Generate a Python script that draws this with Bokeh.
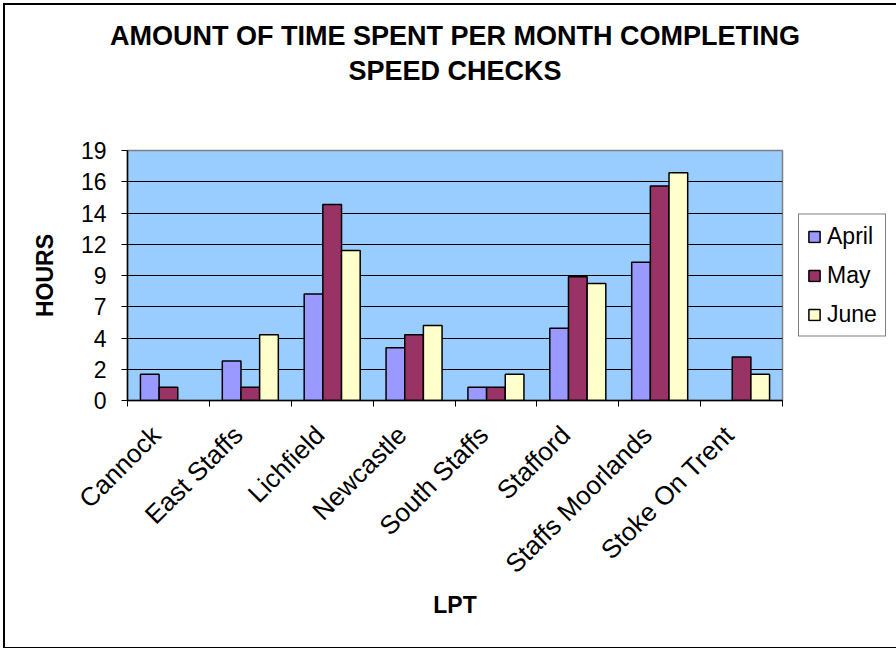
import math
from bokeh.plotting import figure
from bokeh.models import (ColumnDataSource, FixedTicker, LinearAxis,
                          Range1d, Legend, LegendItem)
from bokeh.transform import dodge
from bokeh.embed import file_html
from bokeh.resources import INLINE

NAN = float("nan")
lpt = ["Cannock", "East Staffs", "Lichfield", "Newcastle", "South Staffs",
       "Stafford", "Staffs Moorlands", "Stoke On Trent"]
april = [2, 3, 8.1, 4, 1, 5.5, 10.5, NAN]
may = [1, 1, 14.9, 5, 1, 9.4, 16.3, 3.3]
june = [NAN, 5, 11.4, 5.7, 2, 8.9, 17.3, 2]
months = ["April", "May", "June"]
colors = ["#9999FF", "#993366", "#FFFFCC"]
y_ticks = [i * 19 / 8 for i in range(9)]
y_tick_labels = ["0", "2", "4", "7", "9", "12", "14", "16", "19"]
title_lines = ["AMOUNT OF TIME SPENT PER MONTH COMPLETING", "SPEED CHECKS"]

FONT = "Liberation Sans"

n = len(lpt)
idx = list(range(n))
label_pos = [i + 0.35 for i in idx]
boundaries = list(range(n + 1))
src = ColumnDataSource(dict(idx=idx, lpt=lpt, April=april, May=may, June=june))

p = figure(frame_width=655, frame_height=250, x_range=Range1d(0, n), y_range=Range1d(0, 19),
           x_axis_type=None, output_backend="svg", toolbar_location=None,
           title_location=None,
           min_border_left=122, min_border_right=115, min_border_top=145,
           min_border_bottom=247)
p.styles = {"border": "2px solid black", "margin": "3px"}
p.background_fill_color = "#99CCFF"
p.border_fill_color = "white"
p.outline_line_color = "#808080"
p.outline_line_width = 1.5

# title: two centred lines drawn as labels of empty axes above the frame
title_common = dict(ticker=FixedTicker(ticks=[]), axis_line_color=None,
                    major_tick_in=0, major_tick_out=0, minor_tick_in=0, minor_tick_out=0,
                    major_label_standoff=0,
                    axis_label_text_font=FONT, axis_label_text_font_size="27px",
                    axis_label_text_font_style="bold", axis_label_text_color="black")
t2 = LinearAxis(axis_label=title_lines[1], axis_label_standoff=65, **title_common)
t1 = LinearAxis(axis_label=title_lines[0], axis_label_standoff=2, **title_common)
p.add_layout(t2, "above")
p.add_layout(t1, "above")

bw = 0.228
offsets = [-bw, 0, bw]
renderers = []
for m, c, off in zip(months, colors, offsets):
    r = p.vbar(x=dodge("idx", 0.5 + off), top=m, width=bw, bottom=0,
               source=src, fill_color=c, line_color="black", line_width=1.5)
    renderers.append(r)

# y axis
p.yaxis.ticker = FixedTicker(ticks=y_ticks)
p.yaxis.major_label_overrides = {t: l for t, l in zip(y_ticks, y_tick_labels)}
p.yaxis.major_label_text_font = FONT
p.yaxis.major_label_text_font_size = "23px"
p.yaxis.major_label_text_color = "black"
p.yaxis.major_label_standoff = 15
p.yaxis.axis_line_color = "black"
p.yaxis.axis_line_width = 1.5
p.yaxis.major_tick_in = 0
p.yaxis.major_tick_out = 6
p.yaxis.major_tick_line_color = "black"
p.yaxis.minor_tick_line_color = None
p.yaxis.axis_label = "HOURS"
p.yaxis.axis_label_text_font = FONT
p.yaxis.axis_label_text_font_size = "23px"
p.yaxis.axis_label_text_font_style = "bold"
p.yaxis.axis_label_text_color = "black"
p.yaxis.axis_label_standoff = 20
p.ygrid.ticker = FixedTicker(ticks=y_ticks)
p.ygrid.grid_line_color = "black"
p.ygrid.grid_line_width = 1
p.xgrid.grid_line_color = None

# x axis: category labels (major) + boundary tick marks (minor)
cat_axis = LinearAxis(ticker=FixedTicker(ticks=label_pos, minor_ticks=boundaries),
                      major_label_overrides={c: l for c, l in zip(label_pos, lpt)},
                      major_tick_line_color=None, major_tick_in=0, major_tick_out=0,
                      minor_tick_line_color="black", minor_tick_in=0, minor_tick_out=6,
                      axis_line_color="black", axis_line_width=1.5,
                      major_label_orientation=math.pi / 4,
                      major_label_text_font=FONT,
                      major_label_text_font_size="26px",
                      major_label_text_color="black",
                      major_label_standoff=24,
                      axis_label="LPT", axis_label_text_font=FONT,
                      axis_label_text_font_size="23px",
                      axis_label_text_font_style="bold",
                      axis_label_text_color="black",
                      axis_label_standoff=0)
p.add_layout(cat_axis, "below")

legend = Legend(items=[LegendItem(label=m, renderers=[r]) for m, r in zip(months, renderers)],
                location="center_left", label_text_font=FONT, label_text_font_size="23px",
                label_text_color="black",
                border_line_color="black", border_line_width=1.5,
                background_fill_color="white", glyph_width=14, glyph_height=14,
                label_height=26, spacing=12, padding=8, margin=16, label_standoff=6)
p.add_layout(legend, "right")

open("out.html", "w").write(file_html(p, INLINE))
